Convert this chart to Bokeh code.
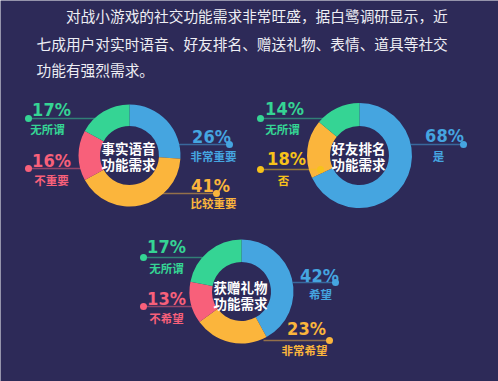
import numpy as np
from bokeh.plotting import figure
from bokeh.models import Range1d
from bokeh.core.properties import value
from bokeh.embed import file_html
from bokeh.resources import INLINE

W, H = 498, 381

# ---------------- data ----------------
title_lines = [
    "\u3000\u3000对战小游戏的社交功能需求非常旺盛，据白鹭调研显示，近",
    "七成用户对实时语音、好友排名、赠送礼物、表情、道具等社交",
    "功能有强烈需求。",
]

c1_title = ["事实语音", "功能需求"]
c1_labels = ["非常重要", "比较重要", "不重要", "无所谓"]
c1_values = [26, 41, 16, 17]

c2_title = ["好友排名", "功能需求"]
c2_labels = ["是", "否", "无所谓"]
c2_values = [68, 18, 14]

c3_title = ["获赠礼物", "功能需求"]
c3_labels = ["希望", "非常希望", "不希望", "无所谓"]
c3_values = [42, 23, 13, 17]

# ---------------- style / layout ----------------
BG = "#2d2a58"
BLUE, YELLOW, RED, GREEN = "#45a5e0", "#fbb53c", "#f8607a", "#35d494"
GOLD = "#f7c21a"
CJK = "Noto Sans CJK SC"
NUM = "'Liberation Sans Narrow', 'DejaVu Sans Condensed', 'Roboto Condensed', 'Arial Narrow', Roboto, sans-serif"

charts = [
    dict(title=c1_title, labels=c1_labels, values=c1_values,
         colors=[BLUE, YELLOW, RED, GREEN], text_colors=[BLUE, YELLOW, RED, GREEN],
         cx=129, cy=155, r_out=51, r_in=29.5, title_y=[147, 163],
         line_y=[144, 193, 168, 118], dot_x=[229, 216, 28, 28], inner_x=[170, 157, 84, 96],
         pct_x=[211, 210, 51, 51], pct_y=[135.5, 184.5, 159.5, 108.5],
         cat_x=[213, 213, 51, 47], cat_y=[155, 202, 179, 128], end_dot=[False] * 4),
    dict(title=c2_title, labels=c2_labels, values=c2_values,
         colors=[BLUE, YELLOW, GREEN], text_colors=[BLUE, GOLD, GREEN],
         cx=359, cy=155, r_out=52.5, r_in=29.5, title_y=[147.5, 163.5],
         line_y=[144, 169, 118], dot_x=[463, 260, 260], inner_x=[410, 320, 325],
         pct_x=[444, 286, 284], pct_y=[135, 157.5, 107.5],
         cat_x=[438, 283, 282], cat_y=[155, 179, 128], end_dot=[False, True, False]),
    dict(title=c3_title, labels=c3_labels, values=c3_values,
         colors=[BLUE, YELLOW, RED, GREEN], text_colors=[BLUE, YELLOW, RED, GREEN],
         cx=241, cy=291, r_out=52, r_in=29.5, title_y=[286, 302.5],
         line_y=[282, 340, 306, 257], dot_x=[335, 329, 143, 143], inner_x=[292, 263, 192, 202],
         pct_x=[319, 306, 166, 166], pct_y=[274.5, 327.5, 297.5, 245.5],
         cat_x=[320, 304, 166, 166], cat_y=[293, 349, 317, 267], end_dot=[False] * 4),
]


def Y(v):
    return H - np.asarray(v, dtype=float)


p = figure(width=W, height=H, x_range=Range1d(0, W), y_range=Range1d(0, H),
           output_backend="svg", toolbar_location=None, min_border=0)
p.axis.visible = False
p.xgrid.grid_line_color = None
p.ygrid.grid_line_color = None
p.background_fill_color = BG
p.border_fill_color = BG
p.outline_line_color = None

# title paragraph
p.text(x=[36] * 3, y=Y([15, 42.5, 69]), text=title_lines,
       text_font=value(CJK), text_font_size="14.7px", text_color="#eeeef4",
       text_baseline="middle", text_align="left")

for c in charts:
    vals = np.array(c["values"], dtype=float) / 100.0
    ends = np.cumsum(vals)
    starts = np.concatenate([[0.0], ends[:-1]])
    ends[-1] = 1.0  # last slice closes the ring
    start_ang = np.pi / 2 - 2 * np.pi * starts
    end_ang = np.pi / 2 - 2 * np.pi * ends
    n = len(vals)
    p.annular_wedge(x=[c["cx"]] * n, y=[H - c["cy"]] * n,
                    inner_radius=c["r_in"], outer_radius=c["r_out"],
                    start_angle=start_ang, end_angle=end_ang, direction="clock",
                    fill_color=c["colors"], line_color=None)

    # leader lines and dots
    for i in range(n):
        ly = H - c["line_y"][i]
        p.line(x=[c["dot_x"][i], c["inner_x"][i]], y=[ly, ly],
               line_color=c["text_colors"][i], line_alpha=0.5, line_width=1.5)
    p.scatter(x=c["dot_x"], y=Y(c["line_y"]), size=7, marker="circle",
              fill_color=c["text_colors"], line_color=None)
    ex = [c["inner_x"][i] for i in range(n) if c["end_dot"][i]]
    ey = [H - c["line_y"][i] for i in range(n) if c["end_dot"][i]]
    ec = [c["text_colors"][i] for i in range(n) if c["end_dot"][i]]
    if ex:
        p.scatter(x=ex, y=ey, size=7, marker="circle", fill_color=ec, line_color=None)

    # percentage labels
    p.text(x=c["pct_x"], y=Y(c["pct_y"]), text=[f"{v}%" for v in c["values"]],
           text_font=value(NUM), text_font_style="bold", text_font_size="18px",
           text_color=c["text_colors"], text_align="center", text_baseline="middle")
    # category labels
    p.text(x=c["cat_x"], y=Y(c["cat_y"]), text=c["labels"],
           text_font=value(CJK), text_font_style="bold", text_font_size="11.5px",
           text_color=c["text_colors"], text_align="center", text_baseline="middle")
    # center title
    p.text(x=[c["cx"] - 1] * 2, y=Y(c["title_y"]), text=c["title"],
           text_font=value(CJK), text_font_style="bold", text_font_size="13.5px",
           text_color="#ffffff", text_align="center", text_baseline="middle")

open("out.html", "w").write(file_html(p, INLINE))
